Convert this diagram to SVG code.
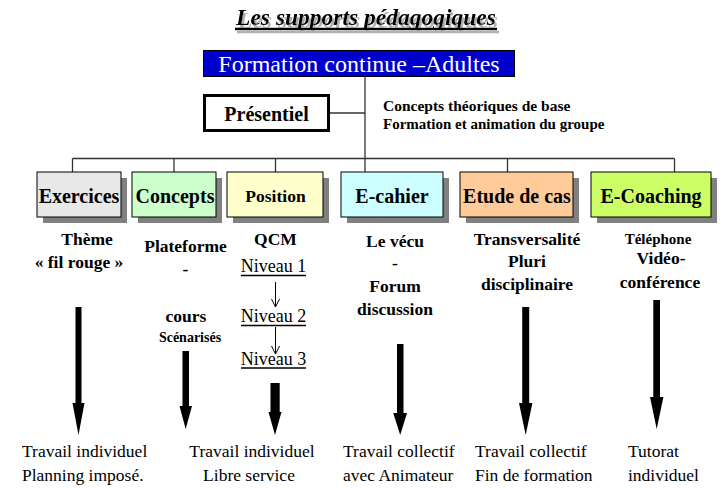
<svg xmlns="http://www.w3.org/2000/svg" width="723" height="488" viewBox="0 0 723 488">
<defs>
<filter id="tshadow" x="-5%" y="-30%" width="110%" height="170%">
<feOffset in="SourceAlpha" dx="2" dy="3" result="off"/>
<feFlood flood-color="#b0b0b0"/>
<feComposite in2="off" operator="in" result="shadow"/>
<feMerge><feMergeNode in="shadow"/><feMergeNode in="SourceGraphic"/></feMerge>
</filter>
</defs>
<style>
text{font-family:"Liberation Serif","Times New Roman",serif;fill:#000}
.b{font-weight:bold}
.box{stroke:#000;stroke-width:1}
.sh{fill:#808080}
.bt{font-weight:bold;font-size:20px;text-anchor:middle}
.sub{font-weight:bold;font-size:17.5px;text-anchor:middle}
.res{font-size:17.5px}
.ln{stroke:#333;stroke-width:1.3;fill:none}
.thick{fill:#000}
.thin{stroke:#000;stroke-width:1;fill:none}
</style>
<g id="title" filter="url(#tshadow)">
<text x="366" y="25" font-size="23.5" font-weight="bold" font-style="italic" text-anchor="middle">Les supports pédagogiques</text>
<line x1="235" y1="29" x2="497" y2="29" stroke="#000" stroke-width="2.5"/>
</g>
<g id="connectors">
<line class="ln" x1="365" y1="77" x2="365" y2="172"/>
<line class="ln" x1="329" y1="113" x2="365" y2="113"/>
<line class="ln" x1="72.5" y1="158.5" x2="674.5" y2="158.5"/>
<line class="ln" x1="72.5" y1="158.5" x2="72.5" y2="172"/>
<line class="ln" x1="174" y1="158.5" x2="174" y2="172"/>
<line class="ln" x1="275.5" y1="158.5" x2="275.5" y2="172"/>
<line class="ln" x1="507.5" y1="158.5" x2="507.5" y2="172"/>
<line class="ln" x1="674.5" y1="158.5" x2="674.5" y2="172"/>
<path class="thin" d="M275.5,282 V306 M271.5,299 L275.5,307 L279.5,299"/>
<path class="thin" d="M275.5,327 V353 M271.5,346 L275.5,354 L279.5,346"/>
<path class="thick" d="M75.5,307 H81.5 V403 H84.5 L78.5,435 L72.5,403 H75.5 Z"/>
<path class="thick" d="M182.5,351 H189 V406 H192 L185.7,429 L179.5,406 H182.5 Z"/>
<path class="thick" d="M270.5,383 H279.7 V412 H281.5 L275,435 L268.5,412 H270.5 Z"/>
<path class="thick" d="M397,344 H403.5 V413 H407 L400.2,435 L393.2,413 H397 Z"/>
<path class="thick" d="M522.2,307 H529.2 V403 H532.4 L525.7,435 L519,403 H522.2 Z"/>
<path class="thick" d="M653.3,300 H660 V397 H663.4 L656.7,429 L650,397 H653.3 Z"/>
</g>
<g id="formation">
<rect x="203.5" y="50.5" width="311" height="26" fill="#0000cc" stroke="#000" stroke-width="1"/>
<text x="359" y="72" font-size="24" text-anchor="middle" style="fill:#fff">Formation continue –Adultes</text>
</g>
<g id="presentiel">
<rect x="204.5" y="95.5" width="124" height="35" fill="#fff" stroke="#000" stroke-width="3"/>
<text x="266.5" y="121" font-size="20" font-weight="bold" text-anchor="middle">Présentiel</text>
</g>
<g id="presentiel-notes">
<text x="383" y="111" font-size="15.5" class="b">Concepts théoriques de base</text>
<text x="383" y="129" font-size="15" class="b">Formation et animation du groupe</text>
</g>
<g id="exercices">
<rect class="sh" x="43" y="178" width="84" height="45"/>
<rect class="box" x="37" y="172" width="84" height="45" fill="#e8e8e8"/>
<text class="bt" x="79" y="203">Exercices</text>
<text class="sub" x="87" y="245">Thème</text>
<text class="sub" x="79" y="268">« fil rouge »</text>
<text class="res" x="22" y="457">Travail individuel</text>
<text class="res" x="22" y="481">Planning imposé.</text>
</g>
<g id="concepts">
<rect class="sh" x="138" y="178" width="84" height="45"/>
<rect class="box" x="132" y="172" width="84" height="45" fill="#ccffcc"/>
<text class="bt" x="175" y="203">Concepts</text>
<text class="sub" x="185.5" y="252">Plateforme</text>
<text class="sub" x="185.5" y="275">-</text>
<text class="sub" x="186" y="322">cours</text>
<text class="sub" x="190" y="342" style="font-size:14px">Scénarisés</text>
</g>
<g id="position">
<rect class="sh" x="233" y="178" width="96" height="45"/>
<rect class="box" x="227" y="172" width="96" height="45" fill="#ffffcc"/>
<text class="bt" x="275.5" y="202" style="font-size:17.5px">Position</text>
<text class="sub" x="275.5" y="245">QCM</text>
<text x="273.5" y="272" font-size="18" text-anchor="middle">Niveau 1</text>
<line x1="241" y1="275.5" x2="306" y2="275.5" stroke="#000" stroke-width="1.5"/>
<text x="273.5" y="322" font-size="18" text-anchor="middle">Niveau 2</text>
<line x1="241" y1="325.5" x2="306" y2="325.5" stroke="#000" stroke-width="1.5"/>
<text x="273.5" y="364.5" font-size="18" text-anchor="middle">Niveau 3</text>
<line x1="241" y1="368" x2="306" y2="368" stroke="#000" stroke-width="1.5"/>
<text class="res" x="252" y="457" text-anchor="middle">Travail individuel</text>
<text class="res" x="249" y="481" text-anchor="middle">Libre service</text>
</g>
<g id="ecahier">
<rect class="sh" x="347" y="178" width="102" height="45"/>
<rect class="box" x="341" y="172" width="102" height="45" fill="#ccffff"/>
<text class="bt" x="392" y="203">E-cahier</text>
<text class="sub" x="395" y="247">Le vécu</text>
<text class="sub" x="395" y="269">-</text>
<text class="sub" x="395" y="292">Forum</text>
<text class="sub" x="395" y="315">discussion</text>
<text class="res" x="343" y="457">Travail collectif</text>
<text class="res" x="343" y="481">avec Animateur</text>
</g>
<g id="etude">
<rect class="sh" x="466" y="178" width="113" height="45"/>
<rect class="box" x="460" y="172" width="113" height="45" fill="#ffcc99"/>
<text class="bt" x="517" y="203">Etude de cas</text>
<text class="sub" x="527" y="245">Transversalité</text>
<text class="sub" x="527" y="267">Pluri</text>
<text class="sub" x="527" y="290">disciplinaire</text>
<text class="res" x="475" y="457">Travail collectif</text>
<text class="res" x="475" y="481">Fin de formation</text>
</g>
<g id="ecoaching">
<rect class="sh" x="597" y="178" width="120" height="45"/>
<rect class="box" x="591" y="172" width="120" height="45" fill="#ccff66"/>
<text class="bt" x="651" y="203">E-Coaching</text>
<text class="sub" x="658" y="244" style="font-size:15px">Téléphone</text>
<text class="sub" x="661" y="264">Vidéo-</text>
<text class="sub" x="660" y="288">conférence</text>
<text class="res" x="628" y="457">Tutorat</text>
<text class="res" x="628" y="481">individuel</text>
</g>
</svg>
